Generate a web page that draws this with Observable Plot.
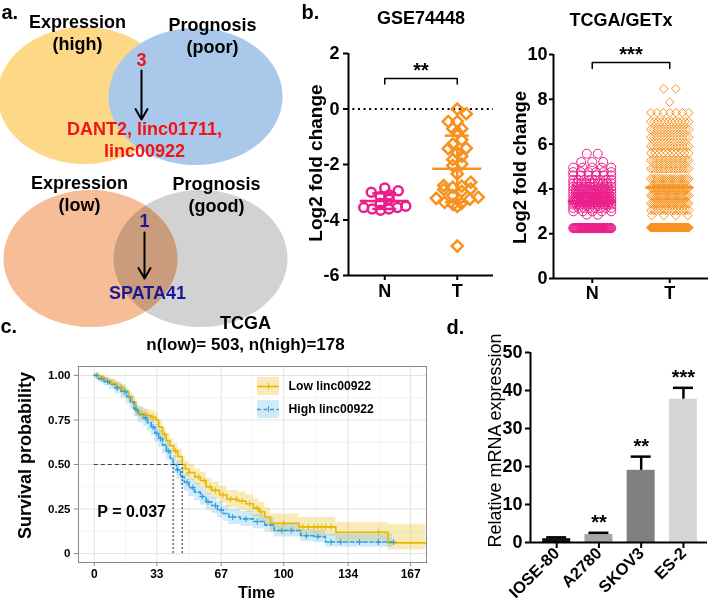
<!DOCTYPE html>
<html><head><meta charset="utf-8">
<script src="https://cdn.jsdelivr.net/npm/d3@7"></script>
<script src="https://cdn.jsdelivr.net/npm/@observablehq/plot@0.6"></script>
<style>
html,body{margin:0;padding:0;background:#fff;}
#fig{position:relative;width:712px;height:606px;overflow:hidden;background:#fff;}
#fig svg{position:absolute;}
</style></head>
<body><div id="fig"></div>
<script>
// ================= DATA =================
// Panel a – Venn diagrams
const vennSetLabels = ["Expression\n(high)", "Prognosis\n(poor)", "Expression\n(low)", "Prognosis\n(good)"];
const vennOverlapCounts = ["3", "1"];
const vennOverlapGenes = ["DANT2, linc01711,\nlinc00922", "SPATA41"];

// Panel b – GSE74448 (log2 fold change)
const gseGroups = ["N", "T"];
const gseN = [-2.85, -2.95, -3.0, -3.1, -3.15, -3.25, -3.4, -3.5, -3.55, -3.55, -3.6, -3.6, -3.65];
const gseT = [0.0, -0.17, -0.45, -0.45, -0.71, -0.71, -0.83, -1.11, -1.26, -1.41, -1.43, -1.58, -1.70,
  -1.82, -1.98, -2.04, -2.34, -2.64, -2.78, -2.76, -2.82, -2.88, -2.9, -2.97, -3.12, -3.18, -3.25,
  -3.22, -3.37, -3.44, -3.40, -3.51, -4.94];
const gseSignif = "**";

// Panel b – TCGA/GETx (value levels and number of samples at each level)
const tcgaGroups = ["N", "T"];
const tcgaNLevels = [5.57, 5.2, 4.95, 4.75, 4.6, 4.4, 4.25, 4.1, 3.95, 3.8, 3.65, 3.5, 3.4, 3.3, 3.15, 3.0, 2.85, 2.25];
const tcgaNCounts = [2, 3, 5, 6, 6, 8, 10, 12, 14, 16, 18, 20, 18, 12, 8, 5, 2, 55];
const tcgaTLevels = [8.47, 7.87, 7.4, 7.0, 6.65, 6.3, 5.9, 5.6, 5.27, 4.9, 4.45, 4.05, 3.7, 3.35, 3.04, 2.81, 2.27];
const tcgaTCounts = [2, 1, 7, 12, 14, 14, 14, 10, 16, 16, 18, 24, 22, 20, 14, 4, 100];
const tcgaSignif = "***";

// Panel c – Kaplan–Meier (TCGA)
const kmTitle = "TCGA";
const kmSubtitle = "n(low)= 503, n(high)=178";
const kmGroups = ["Low linc00922", "High linc00922"];
const kmPValue = "P = 0.037";
const kmXTicks = [0, 33, 67, 100, 134, 167];
const kmYTicks = [0, 0.25, 0.5, 0.75, 1];
const lowTime  = [0, 3, 6, 9, 12, 15, 18, 20, 22, 24, 27, 30, 32.5, 34, 36, 38, 40, 42, 44, 46.4, 48, 50, 53, 56, 59, 62, 66, 70, 76, 80, 84, 87, 90, 93, 108, 127.5, 155, 175];
const lowSurv  = [1, 0.985, 0.97, 0.955, 0.935, 0.91, 0.88, 0.85, 0.80, 0.785, 0.775, 0.765, 0.75, 0.71, 0.67, 0.635, 0.605, 0.575, 0.545, 0.50, 0.475, 0.455, 0.43, 0.41, 0.375, 0.355, 0.33, 0.305, 0.295, 0.28, 0.255, 0.235, 0.205, 0.17, 0.15, 0.12, 0.06, 0.06];
const lowLower = [1, 0.975, 0.955, 0.935, 0.912, 0.885, 0.853, 0.82, 0.77, 0.753, 0.742, 0.73, 0.715, 0.673, 0.632, 0.596, 0.565, 0.534, 0.503, 0.457, 0.432, 0.411, 0.385, 0.364, 0.329, 0.308, 0.282, 0.256, 0.245, 0.23, 0.204, 0.183, 0.153, 0.118, 0.098, 0.07, 0.02, 0.02];
const lowUpper = [1, 0.995, 0.985, 0.975, 0.958, 0.935, 0.907, 0.88, 0.83, 0.817, 0.808, 0.80, 0.785, 0.747, 0.708, 0.674, 0.645, 0.616, 0.587, 0.543, 0.518, 0.499, 0.475, 0.456, 0.421, 0.402, 0.378, 0.354, 0.345, 0.33, 0.306, 0.287, 0.257, 0.222, 0.202, 0.175, 0.165, 0.165];
const highTime  = [0, 2, 5, 8, 11, 14, 17, 19, 21, 23, 26, 28, 30, 32, 34, 36, 38, 40, 41.6, 43.5, 45.5, 47.5, 50, 53, 56, 59, 62, 65, 68, 71, 77, 84, 90, 95, 109, 116, 122, 157.5];
const highSurv  = [1, 0.98, 0.965, 0.95, 0.93, 0.91, 0.88, 0.85, 0.81, 0.78, 0.76, 0.735, 0.71, 0.675, 0.645, 0.61, 0.575, 0.535, 0.50, 0.47, 0.43, 0.40, 0.37, 0.345, 0.32, 0.29, 0.27, 0.245, 0.225, 0.205, 0.195, 0.18, 0.16, 0.13, 0.10, 0.095, 0.065, 0.065];
const highLower = [1, 0.962, 0.94, 0.92, 0.895, 0.872, 0.84, 0.808, 0.766, 0.735, 0.714, 0.688, 0.662, 0.626, 0.595, 0.56, 0.524, 0.484, 0.449, 0.419, 0.38, 0.35, 0.321, 0.297, 0.273, 0.244, 0.225, 0.201, 0.182, 0.163, 0.154, 0.14, 0.121, 0.093, 0.066, 0.062, 0.035, 0.035];
const highUpper = [1, 0.998, 0.99, 0.98, 0.965, 0.948, 0.92, 0.892, 0.854, 0.825, 0.806, 0.782, 0.758, 0.724, 0.695, 0.66, 0.626, 0.586, 0.551, 0.521, 0.48, 0.45, 0.419, 0.393, 0.367, 0.336, 0.315, 0.289, 0.268, 0.247, 0.236, 0.22, 0.199, 0.167, 0.134, 0.128, 0.11, 0.11];
const lowCensor  = [2, 5, 10, 14, 25, 28, 31, 37, 43, 50, 55, 58, 61, 64, 68, 72, 75, 78, 82, 86, 88, 100, 110, 113, 116, 118, 120, 122, 125, 150];
const highCensor = [1, 4, 7, 12, 16, 22, 27, 31, 33, 35, 39, 44, 49, 52, 57, 60, 64, 67, 73, 80, 86, 99, 104, 112, 118, 125, 130, 140, 150, 158];

// Panel d – relative mRNA expression
const cellLines = ["IOSE-80", "A2780", "SKOV3", "ES-2"];
const cellMeans = [1.0, 2.1, 19.0, 37.7];
const cellErrors = [0.35, 0.45, 3.6, 3.0];
const cellSignif = ["", "**", "**", "***"];
const cellYTicks = [0, 10, 20, 30, 40, 50];

// ================= STYLE =================
const FONT = "'Liberation Sans', Arial, Helvetica, sans-serif";
const base = {fontFamily: FONT, fontWeight: "bold", background: "transparent", overflow: "visible", color: "black"};
const vennFills = ["#fdd886", "#aac9ea", "#f6bd97", "#d2d2d2"];
const overlapColors = ["#f01414", "#1a1a99"];
const pink = "#ea1f8c", orange = "#f7921e";
const lowColor = "#E7B800", highColor = "#2E9FDF";
const barFills = ["#111111", "#a5a5a5", "#808080", "#d6d6d6"];

const fig = document.getElementById("fig");
function place(svg, left, top) { svg.style.left = left + "px"; svg.style.top = top + "px"; fig.appendChild(svg); }
const yTitle = (txt, dx, dy, size, weight = "bold") =>
  Plot.text([txt], {frameAnchor: "left", dx, dy, rotate: -90, text: d => d, textAnchor: "middle", lineAnchor: "middle", fontSize: size, fontWeight: weight});
const topTitle = (txt, dx, dy, size) =>
  Plot.text([txt], {frameAnchor: "top", dx, dy, text: d => d, textAnchor: "middle", lineAnchor: "middle", fontSize: size, fontWeight: "bold"});

// ================= PANEL A =================
const ellipseSymbol = {
  draw(ctx, size) {
    const ry = Math.sqrt(size / Math.PI), rx = ry * 1.27, k = 0.5523;
    ctx.moveTo(rx, 0);
    ctx.bezierCurveTo(rx, k * ry, k * rx, ry, 0, ry);
    ctx.bezierCurveTo(-k * rx, ry, -rx, k * ry, -rx, 0);
    ctx.bezierCurveTo(-rx, -k * ry, -k * rx, -ry, 0, -ry);
    ctx.bezierCurveTo(k * rx, -ry, rx, -k * ry, rx, 0);
    ctx.closePath();
  }
};
const vennLayout = [
  {cx: 84, cy: 95, lx: 77, ly: 22},
  {cx: 195, cy: 96, lx: 212, ly: 25},
  {cx: 90, cy: 258, lx: 79, ly: 183},
  {cx: 200, cy: 258, lx: 216, ly: 184}
];
const overlapLayout = [
  {x: 141, y: 60, ay1: 70, ay2: 119, gx: 144, gy: 129},
  {x: 144, y: 221, ay1: 232, ay2: 278, gx: 147, gy: 293}
];
const vennSets = vennSetLabels.map((label, i) => ({label, fill: vennFills[i], ...vennLayout[i]}));
const vennSetLines = vennSets.flatMap(d => d.label.split("\n").map((t, j) => ({t, x: d.lx, y: d.ly + j * 22})));
const overlaps = vennOverlapCounts.map((n, i) => ({n, genes: vennOverlapGenes[i], color: overlapColors[i], ...overlapLayout[i]}));
const geneLines = overlaps.flatMap(d => d.genes.split("\n").map((t, j) => ({t, x: d.gx, y: d.gy + j * 22, color: d.color})));

const panelA = Plot.plot({
  width: 300, height: 335, margin: 0,
  x: {domain: [0, 300], range: [0, 300], axis: null},
  y: {domain: [0, 335], range: [0, 335], axis: null},
  color: {type: "identity"},
  style: base,
  marks: [
    Plot.dot(vennSets.slice(0, 3), {x: "cx", y: "cy", r: 68.5, symbol: ellipseSymbol, fill: "fill", stroke: null}),
    Plot.dot(vennSets.slice(3), {x: "cx", y: "cy", r: 68.5, symbol: ellipseSymbol, fill: "fill", stroke: null, mixBlendMode: "multiply"}),
    Plot.text(vennSetLines, {x: "x", y: "y", text: "t", fontSize: 18, fontWeight: "bold", fill: "black"}),
    Plot.text(overlaps, {x: "x", y: "y", text: "n", fontSize: 18, fontWeight: "bold", fill: "color"}),
    Plot.arrow(overlaps, {x1: "x", x2: "x", y1: "ay1", y2: "ay2", stroke: "black", strokeWidth: 2, headLength: 9}),
    Plot.text(geneLines, {x: "x", y: "y", text: "t", fontSize: 18, fontWeight: "bold", fill: "color"})
  ]
});
place(panelA, 0, 0);

// ================= PANEL B helpers =================
function swarmLayout(values, center, bin, stepPx, maxWidthPx, pxPerUnit) {
  const out = [];
  for (const [, vs] of d3.groups(values, v => Math.round(v / bin))) {
    const sorted = vs.slice().sort((a, b) => a - b);
    const k = sorted.length;
    const step = k > 1 ? Math.min(stepPx, maxWidthPx / (k - 1)) / pxPerUnit : 0;
    const slots = d3.range(k).map(j => (j - (k - 1) / 2) * step).sort((a, b) => Math.abs(a) - Math.abs(b) || a - b);
    sorted.forEach((v, j) => out.push({x: center + slots[j], value: v}));
  }
  return out;
}
function summary(vals, c, color) { return {c, color, mean: d3.mean(vals), sd: d3.deviation(vals)}; }
function sdMarks(summ, halfCap, sw) {
  const caps = summ.flatMap(d => [{...d, y: d.mean + d.sd}, {...d, y: d.mean - d.sd}]);
  return [
    Plot.ruleX(summ, {x: "c", y1: d => d.mean - d.sd, y2: d => d.mean + d.sd, stroke: "color", strokeWidth: sw}),
    Plot.ruleY(caps, {y: "y", x1: d => d.c - halfCap, x2: d => d.c + halfCap, stroke: "color", strokeWidth: sw})
  ];
}
function meanMark(summ, halfMean, sw) {
  return Plot.ruleY(summ, {y: "mean", x1: d => d.c - halfMean, x2: d => d.c + halfMean, stroke: "color", strokeWidth: sw});
}

// ================= PANEL B (GSE74448) =================
{
  const ppu = 145 / 2;
  const nPts = swarmLayout(gseN, 0.5, 0.3, 9, 42, ppu);
  const tPts = swarmLayout(gseT, 1.5, 0.3, 9, 42, ppu);
  const summ = [summary(gseN, 0.5, pink), summary(gseT, 1.5, orange)];
  const bracket = [[0.5, 0.9], [0.5, 1.1], [1.5, 1.1], [1.5, 0.9]];
  const p = Plot.plot({
    width: 210, height: 300, marginLeft: 58, marginRight: 7, marginTop: 53, marginBottom: 25,
    x: {domain: [0, 2]}, y: {domain: [-6, 2]},
    color: {type: "identity"},
    style: base,
    marks: [
      Plot.ruleY([0], {x1: 0.06, x2: 2, stroke: "black", strokeWidth: 2, strokeDasharray: "2,3.6"}),
      Plot.dot(nPts, {x: "x", y: "value", r: 4.5, stroke: pink, strokeWidth: 2.5, fill: "none"}),
      Plot.dot(tPts, {x: "x", y: "value", r: 5, symbol: "diamond2", stroke: orange, strokeWidth: 2.5, fill: "none"}),
      ...sdMarks(summ, 12 / ppu, 2.5),
      meanMark(summ, 24.5 / ppu, 2.5),
      Plot.line(bracket, {stroke: "black", strokeWidth: 1.5}),
      Plot.text([gseSignif], {x: 1, y: 1.1, dy: -1, text: d => d, lineAnchor: "bottom", fontSize: 20, fontWeight: "bold"}),
      Plot.ruleX([0], {y1: -6, y2: 2, stroke: "black", strokeWidth: 2}),
      Plot.ruleY([-6], {x1: 0, x2: 2, stroke: "black", strokeWidth: 2}),
      Plot.axisY({ticks: [-6, -4, -2, 0, 2], tickFormat: d => String(d), tickSize: 5, tickPadding: 4, strokeWidth: 2, fontSize: 18, fontWeight: "bold", label: null}),
      Plot.axisX({ticks: [0.5, 1.5], tickFormat: v => gseGroups[Math.floor(v)], tickSize: 5, tickPadding: 4, strokeWidth: 2, fontSize: 18, fontWeight: "bold", label: null}),
      topTitle("GSE74448", 0, -35, 18),
      yTitle("Log2 fold change", -33, -1.5, 19)
    ]
  });
  place(p, 290, 0);
}

// ================= PANEL B (TCGA/GETx) =================
{
  const ppu = 155 / 2;
  const nVals = tcgaNLevels.flatMap((v, i) => Array(tcgaNCounts[i]).fill(v));
  const tVals = tcgaTLevels.flatMap((v, i) => Array(tcgaTCounts[i]).fill(v));
  const nPts = swarmLayout(nVals, 0.5, 0.01, 11, 38, ppu);
  const tPts = swarmLayout(tVals, 1.5, 0.01, 12, 38, ppu);
  const summ = [summary(nVals, 0.5, pink), summary(tVals, 1.5, orange)];
  const bracket = [[0.5, 9.37], [0.5, 9.64], [1.5, 9.64], [1.5, 9.37]];
  const p = Plot.plot({
    width: 212, height: 300, marginLeft: 53, marginRight: 4, marginTop: 54, marginBottom: 22,
    x: {domain: [0, 2]}, y: {domain: [0, 10]},
    color: {type: "identity"},
    style: base,
    marks: [
      Plot.dot(nPts, {x: "x", y: "value", r: 4.5, stroke: pink, strokeWidth: 1, fill: "none"}),
      Plot.dot(tPts, {x: "x", y: "value", r: 3.9, symbol: "diamond2", stroke: orange, strokeWidth: 1, fill: "none"}),
      meanMark(summ, 24 / ppu, 2.5),
      Plot.line(bracket, {stroke: "black", strokeWidth: 1.5}),
      Plot.text([tcgaSignif], {x: 1, y: 9.64, dy: -1.5, text: d => d, lineAnchor: "bottom", fontSize: 20, fontWeight: "bold"}),
      Plot.ruleX([0], {y1: 0, y2: 10, stroke: "black", strokeWidth: 2}),
      Plot.ruleY([0], {x1: 0, x2: 2, stroke: "black", strokeWidth: 2}),
      Plot.axisY({ticks: [0, 2, 4, 6, 8, 10], tickSize: 4, tickPadding: 2, strokeWidth: 2, fontSize: 18, fontWeight: "bold", label: null}),
      Plot.axisX({ticks: [0.5, 1.5], tickFormat: v => tcgaGroups[Math.floor(v)], tickSize: 5, tickPadding: 3, strokeWidth: 2, fontSize: 18, fontWeight: "bold", label: null}),
      topTitle("TCGA/GETx", -10, -34, 18),
      yTitle("Log2 fold change", -33, 1, 18.5)
    ]
  });
  place(p, 500, 0);
}

// ================= PANEL C (Kaplan–Meier) =================
{
  const lowData = lowTime.map((t, i) => ({t, s: lowSurv[i], lo: lowLower[i], hi: lowUpper[i]}));
  const highData = highTime.map((t, i) => ({t, s: highSurv[i], lo: highLower[i], hi: highUpper[i]}));
  const survAt = (times, surv, t) => surv[Math.max(0, d3.bisectRight(times, t) - 1)];
  const medLow = lowTime[lowSurv.findIndex(s => s <= 0.5)];
  const medHigh = highTime[highSurv.findIndex(s => s <= 0.5)];
  const minorX = kmXTicks.slice(1).map((v, i) => (v + kmXTicks[i]) / 2);
  const minorY = kmYTicks.slice(1).map((v, i) => (v + kmYTicks[i]) / 2);
  const p = Plot.plot({
    width: 470, height: 306, marginLeft: 78, marginRight: 44, marginTop: 66, marginBottom: 44,
    x: {domain: [-8.35, 175.35]}, y: {domain: [-0.05, 1.05]},
    style: base,
    marks: [
      Plot.ruleX(minorX, {stroke: "#efefef", strokeWidth: 0.7}),
      Plot.ruleY(minorY, {stroke: "#efefef", strokeWidth: 0.7}),
      Plot.ruleX(kmXTicks, {stroke: "#e2e2e2", strokeWidth: 1}),
      Plot.ruleY(kmYTicks, {stroke: "#e2e2e2", strokeWidth: 1}),
      Plot.areaY(lowData, {x: "t", y1: "lo", y2: "hi", curve: "step-after", fill: lowColor, fillOpacity: 0.28}),
      Plot.areaY(highData, {x: "t", y1: "lo", y2: "hi", curve: "step-after", fill: highColor, fillOpacity: 0.22}),
      Plot.line(lowData, {x: "t", y: "s", curve: "step-after", stroke: lowColor, strokeWidth: 1.6}),
      Plot.line(highData, {x: "t", y: "s", curve: "step-after", stroke: highColor, strokeWidth: 1.6, strokeDasharray: "4,2.5"}),
      Plot.dot(lowCensor, {x: d => d, y: d => survAt(lowTime, lowSurv, d), symbol: "plus", r: 2.1, stroke: lowColor, strokeWidth: 1}),
      Plot.dot(highCensor, {x: d => d, y: d => survAt(highTime, highSurv, d), symbol: "plus", r: 2.1, stroke: highColor, strokeWidth: 1}),
      Plot.ruleY([0.5], {x1: 0, x2: Math.max(medLow, medHigh), stroke: "#444", strokeWidth: 1, strokeDasharray: "4,3"}),
      Plot.ruleX([medHigh, medLow], {y1: 0, y2: 0.5, stroke: "#222", strokeWidth: 1, strokeDasharray: "2,2"}),
      Plot.text([kmPValue], {x: 1.6, y: 0.236, text: d => d, textAnchor: "start", fontSize: 16, fontWeight: "bold"}),
      Plot.frame({stroke: "#8a8a8a", strokeWidth: 1}),
      Plot.axisX({ticks: kmXTicks, tickFormat: d => String(d), tickSize: 4, tickPadding: 3, stroke: "#8a8a8a", fill: "black", fontSize: 12, fontWeight: "bold", label: null}),
      Plot.axisY({ticks: kmYTicks, tickFormat: d => d === 0 ? "0" : d.toFixed(2), tickSize: 4, tickPadding: 4, stroke: "#8a8a8a", fill: "black", fontSize: 11.5, fontWeight: "bold", label: null}),
      topTitle(kmTitle, -7, -43, 18),
      topTitle(kmSubtitle, -7, -22, 17),
      Plot.text(["Time"], {frameAnchor: "bottom", dx: 4, dy: 30, text: d => d, textAnchor: "middle", lineAnchor: "middle", fontSize: 16, fontWeight: "bold"}),
      yTitle("Survival probability", -53, -9, 18)
    ]
  });
  place(p, 0, 300);
}

// ================= PANEL D (bars) =================
{
  const xDom = [-0.12, 4.07];
  const ppu = 177 / (xDom[1] - xDom[0]);
  const rows = cellLines.map((line, i) => ({line, c: i + 0.5, mean: cellMeans[i], err: cellErrors[i], star: cellSignif[i], fill: barFills[i]}));
  const hb = 14 / ppu, hc = 10 / ppu;
  const p = Plot.plot({
    width: 242, height: 306, marginLeft: 60, marginRight: 5, marginTop: 52, marginBottom: 64,
    x: {domain: xDom}, y: {domain: [0, 50]},
    color: {type: "identity"},
    style: base,
    marks: [
      Plot.rectY(rows, {x1: d => d.c - hb, x2: d => d.c + hb, y: "mean", fill: "fill"}),
      Plot.ruleX(rows, {x: "c", y1: "mean", y2: d => d.mean + d.err, stroke: "black", strokeWidth: 2.5}),
      Plot.ruleY(rows, {y: d => d.mean + d.err, x1: d => d.c - hc, x2: d => d.c + hc, stroke: "black", strokeWidth: 2.5}),
      Plot.text(rows, {x: "c", y: d => d.mean + d.err, dy: -4, text: "star", lineAnchor: "bottom", fontSize: 20, fontWeight: "bold"}),
      Plot.ruleX([xDom[0]], {y1: 0, y2: 50, stroke: "black", strokeWidth: 2}),
      Plot.ruleY([0], {stroke: "black", strokeWidth: 2}),
      Plot.axisY({ticks: cellYTicks, tickSize: 5, tickPadding: 3, strokeWidth: 2, fontSize: 18, fontWeight: "bold", label: null}),
      Plot.axisX({ticks: rows.map(d => d.c), tickFormat: v => cellLines[Math.floor(v)], tickRotate: -45, tickSize: 6, tickPadding: 2, strokeWidth: 2, fontSize: 16.5, fontWeight: "bold", label: null}),
      yTitle("Relative mRNA expression", -35, -7, 18, "normal")
    ]
  });
  place(p, 470, 300);
}

// ================= OVERLAY: panel letters + KM legend =================
{
  const letters = [
    {t: "a.", x: 1, y: 18}, {t: "b.", x: 301, y: 18},
    {t: "c.", x: 0, y: 332}, {t: "d.", x: 446, y: 333}
  ];
  const legendLayout = [{x: 257, y: 386}, {x: 257, y: 409}];
  const legend = kmGroups.map((g, i) => ({g, color: [lowColor, highColor][i], op: [0.28, 0.22][i], dash: [null, "4,2.5"][i], ...legendLayout[i]}));
  const p = Plot.plot({
    width: 712, height: 606, margin: 0,
    x: {domain: [0, 712], range: [0, 712], axis: null},
    y: {domain: [0, 606], range: [0, 606], axis: null},
    color: {type: "identity"},
    style: {...base, pointerEvents: "none"},
    marks: [
      Plot.text(letters, {x: "x", y: "y", text: "t", textAnchor: "start", lineAnchor: "bottom", fontSize: 20, fontWeight: "bold"}),
      Plot.rect(legend, {x1: "x", x2: d => d.x + 22, y1: d => d.y - 9, y2: d => d.y + 9, fill: "color", fillOpacity: "op"}),
      Plot.ruleY(legend.filter(d => !d.dash), {y: "y", x1: "x", x2: d => d.x + 22, stroke: "color", strokeWidth: 1.6}),
      Plot.ruleY(legend.filter(d => d.dash), {y: "y", x1: "x", x2: d => d.x + 22, stroke: "color", strokeWidth: 1.6, strokeDasharray: "4,2.5"}),
      Plot.ruleX(legend, {x: d => d.x + 11, y1: d => d.y - 3, y2: d => d.y + 3, stroke: "color", strokeWidth: 1}),
      Plot.text(legend, {x: d => d.x + 31, y: "y", text: "g", textAnchor: "start", fontSize: 12.2, fontWeight: "bold"})
    ]
  });
  place(p, 0, 0);
}
</script></body></html>
